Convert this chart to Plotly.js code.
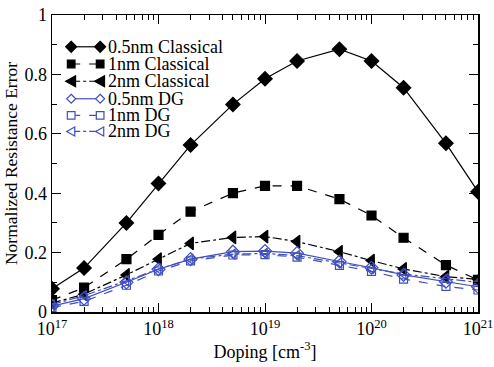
<!DOCTYPE html>
<html><head><meta charset="utf-8">
<script src="https://cdn.plot.ly/plotly-3.0.1.min.js"></script>
<style>body{margin:0;background:#fff}</style>
</head><body><div id="chart" style="width:494px;height:367px"></div>
<script>
const doping = [1e17, 2e17, 5e17, 1e18, 2e18, 5e18, 1e19, 2e19, 5e19, 1e20, 2e20, 5e20, 1e21];
const classical05 = [0.078, 0.148, 0.300, 0.433, 0.562, 0.699, 0.785, 0.845, 0.885, 0.845, 0.755, 0.568, 0.405];
const classical1 = [0.040, 0.082, 0.178, 0.260, 0.338, 0.400, 0.425, 0.425, 0.380, 0.325, 0.250, 0.158, 0.108];
const classical2 = [0.030, 0.060, 0.125, 0.178, 0.231, 0.251, 0.254, 0.237, 0.203, 0.173, 0.145, 0.119, 0.110];
const dg05 = [0.020, 0.045, 0.100, 0.144, 0.178, 0.203, 0.205, 0.198, 0.170, 0.149, 0.125, 0.102, 0.085];
const dg1 = [0.015, 0.036, 0.090, 0.138, 0.172, 0.192, 0.193, 0.185, 0.157, 0.137, 0.111, 0.086, 0.074];
const dg2 = [0.025, 0.055, 0.105, 0.145, 0.178, 0.195, 0.197, 0.190, 0.165, 0.147, 0.128, 0.112, 0.100];
const names = ['0.5nm Classical', '1nm Classical', '2nm Classical', '0.5nm DG', '1nm DG', '2nm DG'];
const xTickVals = [1e17, 1e18, 1e19, 1e20, 1e21];
const xTickText = ['10<sup>17</sup>', '10<sup>18</sup>', '10<sup>19</sup>', '10<sup>20</sup>', '10<sup>21</sup>'];

const blue = '#3f4fbf';
const FAM = 'Liberation Serif';
const font = {family: FAM, color: '#000'};

const styles = [
  {y: classical05, color: '#000', dash: 'solid', symbol: 'diamond', size: 11},
  {y: classical1, color: '#000', dash: 'dash', symbol: 'square', size: 9},
  {y: classical2, color: '#000', dash: 'dashdot', symbol: 'triangle-left', size: 11},
  {y: dg05, color: blue, dash: 'solid', symbol: 'diamond-open', size: 10},
  {y: dg1, color: blue, dash: 'dash', symbol: 'square-open', size: 8},
  {y: dg2, color: blue, dash: 'dashdot', symbol: 'triangle-left-open', size: 9}
];
const data = styles.map((s, i) => ({
  x: doping, y: s.y, name: names[i], type: 'scatter', mode: 'lines+markers', showlegend: false,
  line: {color: s.color, width: 1.2, dash: s.dash},
  marker: {symbol: s.symbol, size: s.size, color: s.color, line: {color: s.color, width: 1.2}}
}));

// Legend (drawn as layout decoration, compact rows like the reference)
const legRows = [0.893, 0.835, 0.777, 0.718, 0.662, 0.608];
const legX0 = 0.045, legX1 = 0.113, legTextX = 0.130;
function markerPath(sym, r) {
  if (sym.startsWith('diamond')) return `M0,${r} L${r},0 L0,${-r} L${-r},0 Z`;
  if (sym.startsWith('square')) { const q = r * 0.85; return `M${-q},${-q} L${q},${-q} L${q},${q} L${-q},${q} Z`; }
  return `M${-r},0 L${r*0.8},${r} L${r*0.8},${-r} Z`;
}
const shapes = [];
const annotations = [];
styles.forEach((s, i) => {
  const y = legRows[i];
  shapes.push({type: 'line', xref: 'paper', yref: 'paper', x0: legX0, x1: legX1, y0: y, y1: y,
    line: {color: s.color, width: 1.2, dash: s.dash}});
  const open = s.symbol.endsWith('open');
  const r = s.symbol.startsWith('square') ? 4.5 : (open ? 4.5 : 5.5);
  [legX0, legX1].forEach(xa => {
    shapes.push({type: 'path', xref: 'paper', yref: 'paper', xsizemode: 'pixel', ysizemode: 'pixel',
      xanchor: xa, yanchor: y, path: markerPath(s.symbol, r),
      fillcolor: open ? '#fff' : s.color, line: {color: s.color, width: 1.2}});
  });
  annotations.push({xref: 'paper', yref: 'paper', x: legTextX, y: y, xanchor: 'left', yanchor: 'middle',
    height: 16, valign: 'middle', borderpad: 0,
    text: names[i], showarrow: false, font: Object.assign({size: 18}, font)});
});

const layout = {
  width: 494, height: 367,
  margin: {l: 52, r: 16, t: 15, b: 55},
  paper_bgcolor: '#fff', plot_bgcolor: '#fff',
  font: Object.assign({size: 16}, font),
  showlegend: false,
  shapes: shapes, annotations: annotations,
  xaxis: {type: 'log', range: [17, 21], tickvals: xTickVals, ticktext: xTickText,
    ticks: 'inside', ticklen: 9, tickwidth: 1, tickcolor: '#000',
    showline: true, linecolor: '#000', linewidth: 1.5, mirror: 'ticks',
    showgrid: false, zeroline: false,
    tickfont: Object.assign({size: 18}, font),
    minor: {dtick: 'D1', ticks: 'inside', ticklen: 5, tickcolor: '#000', showgrid: false},
    title: {text: 'Doping [cm<sup>-3</sup>]', font: Object.assign({size: 18}, font), standoff: 5}},
  yaxis: {range: [0, 1], dtick: 0.2, ticks: 'inside', ticklen: 9, tickwidth: 1, tickcolor: '#000',
    showline: true, linecolor: '#000', linewidth: 1.5, mirror: 'ticks',
    showgrid: false, zeroline: false,
    tickfont: Object.assign({size: 18}, font),
    minor: {dtick: 0.1, ticks: 'inside', ticklen: 5, tickcolor: '#000', showgrid: false},
    title: {text: 'Normalized Resistance Error', font: Object.assign({size: 17.5}, font), standoff: 2}}
};
Plotly.newPlot('chart', data, layout, {displayModeBar: false, staticPlot: true});
</script></body></html>
